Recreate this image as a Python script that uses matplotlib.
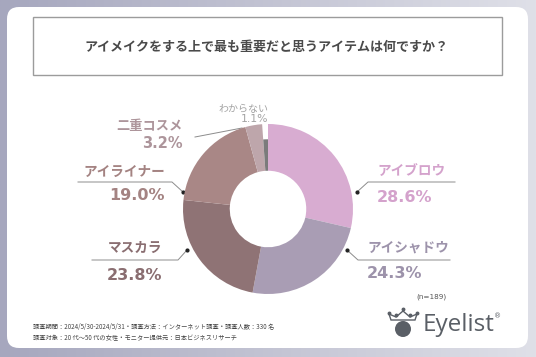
import numpy as np
import matplotlib
matplotlib.use("Agg")
import matplotlib.pyplot as plt
from matplotlib.patches import FancyBboxPatch, Rectangle, Circle, Polygon

plt.rcParams['font.family'] = ['Noto Sans CJK JP', 'DejaVu Sans']

# ---- data ----
categories = ["アイブロウ", "アイシャドウ", "マスカラ", "アイライナー", "二重コスメ", "わからない"]
values = [28.6, 24.3, 23.8, 19.0, 3.2, 1.1]
slice_colors = ["#d8acd1", "#a99db4", "#8f7375", "#a98786", "#bea6ab", "#7b7b7b"]
text_colors = ["#d4a2cc", "#9d93ab", "#8a6e71", "#a48382", "#ad959b", "#a3a3a3"]
title = "アイメイクをする上で最も重要だと思うアイテムは何ですか？"
note1 = "調査期間：2024/5/30-2024/5/31・調査方法：インターネット調査・調査人数：330 名"
note2 = "調査対象：20 代～50 代の女性・モニター提供元：日本ビジネスリサーチ"
n_text = "(n=189)"

W, H = 536, 357
fig = plt.figure(figsize=(W / 100, H / 100), dpi=100)

# background / decoration axes in pixel coordinates
bg = fig.add_axes([0, 0, 1, 1], zorder=0)
bg.set_xlim(0, W)
bg.set_ylim(H, 0)
bg.axis("off")

# gradient outer background
c0 = np.array([0xa6, 0xa7, 0xbe]) / 255
c1 = np.array([0xdf, 0xe0, 0xe8]) / 255
t = np.linspace(0, 1, 256)
grad = (c0[None, :] * (1 - t[:, None]) + c1[None, :] * t[:, None])[None, :, :]
grad = np.repeat(grad, 4, axis=0)
bg.imshow(grad, extent=[0, W, H, 0], aspect="auto", zorder=0)

# white card
bg.add_patch(FancyBboxPatch((7, 7), 521, 341, boxstyle="round,pad=0,rounding_size=12",
                            facecolor="white", edgecolor="none", zorder=1))
# title box
bg.add_patch(Rectangle((33, 17), 469, 58, facecolor="white", edgecolor="#9c9c9c", lw=1.0, zorder=2))
bg.text(266, 47, title, ha="center", va="center", fontsize=9.4, fontweight="bold",
        color="#4a4a4a", zorder=3)

# ---- donut ----
cx, cy, R = 268, 209, 85
pie_ax = fig.add_axes([(cx - R) / W, (H - cy - R) / H, 2 * R / W, 2 * R / H], zorder=1)
wedges, _ = pie_ax.pie(values, colors=slice_colors, startangle=90, counterclock=False,
                       radius=1.0, wedgeprops=dict(width=0.55, edgecolor="none"))
# the "わからない" slice is drawn shorter than the others
wedges[-1].set_radius(0.82)
wedges[-1].set_width(0.37)
pie_ax.set_xlim(-1, 1)
pie_ax.set_ylim(-1, 1)
pie_ax.axis("off")

# ---- labels and leader lines ----
line_kw = dict(color="#8c8c8c", lw=0.7, zorder=3)
dot_kw = dict(color="#222222", ms=2.0, marker="o", zorder=4)
lab_kw = dict(va="center", fontsize=9.8, fontweight="bold", zorder=3)
pct_kw = dict(va="center", fontsize=11.5, fontweight="bold", family="DejaVu Sans", zorder=3)

# アイブロウ
bg.plot([357, 368, 455], [192, 182, 182], **line_kw)
bg.plot([357], [192], **dot_kw)
bg.text(377, 172, categories[0], ha="left", color=text_colors[0], **lab_kw)
bg.text(377, 197, f"{values[0]:.1f}%", ha="left", color=text_colors[0], **pct_kw)

# アイシャドウ
bg.plot([347, 358, 450], [250, 260, 260], **line_kw)
bg.plot([347], [250], **dot_kw)
bg.text(367, 248, categories[1], ha="left", color=text_colors[1], **lab_kw)
bg.text(367, 273, f"{values[1]:.1f}%", ha="left", color=text_colors[1], **pct_kw)

# マスカラ
bg.plot([187, 178, 92], [250, 260, 260], **line_kw)
bg.plot([187], [250], **dot_kw)
bg.text(162, 248, categories[2], ha="right", color=text_colors[2], **lab_kw)
bg.text(162, 275, f"{values[2]:.1f}%", ha="right", color=text_colors[2], **pct_kw)

# アイライナー
bg.plot([183, 172, 78], [192, 182, 182], **line_kw)
bg.plot([183], [192], **dot_kw)
bg.text(165, 172, categories[3], ha="right", color=text_colors[3], **lab_kw)
bg.text(165, 195, f"{values[3]:.1f}%", ha="right", color=text_colors[3], **pct_kw)

# 二重コスメ
bg.plot([195, 242], [137, 128], **line_kw)
bg.text(183, 126, categories[4], ha="right", va="center", fontsize=9.5, fontweight="bold",
        color=text_colors[4], zorder=3)
bg.text(183, 143, f"{values[4]:.1f}%", ha="right", va="center", fontsize=10.5, fontweight="bold",
        color=text_colors[4], family="DejaVu Sans", zorder=3)

# わからない
bg.text(268, 109, categories[5], ha="right", va="center", fontsize=7.2, color=text_colors[5], zorder=3)
bg.text(268, 119, f"{values[5]:.1f}%", ha="right", va="center", fontsize=7.8,
        color=text_colors[5], family="DejaVu Sans", zorder=3)

# n
bg.text(431, 297, n_text, ha="center", va="center", fontsize=5.2, color="#555555",
        family="DejaVu Sans", zorder=3)

# footnotes
bg.text(33, 327, note1, ha="left", va="center", fontsize=4.5, color="#444444", zorder=3)
bg.text(33, 338, note2, ha="left", va="center", fontsize=4.5, color="#444444", zorder=3)

# logo
logo_c = "#5a5f66"
bg.add_patch(Circle((403, 329), 8, facecolor=logo_c, edgecolor="none", zorder=3))
bg.add_patch(Polygon([(391, 320), (389, 314), (396, 317), (403, 311), (410, 317), (417, 314), (415, 320)],
                     closed=True, facecolor="none", edgecolor=logo_c, lw=1.0, zorder=3))
for px, py in [(389, 313), (403, 309), (417, 313), (396, 315), (410, 315)]:
    bg.plot([px], [py], marker="o", ms=1.8, color=logo_c, zorder=3)
bg.text(423, 325, "Eyelist", ha="left", va="center", fontsize=17.5, color=logo_c,
        family="Open Sans", zorder=3)
bg.text(498, 316, "®", ha="center", va="center", fontsize=5, color=logo_c, family="DejaVu Sans", zorder=3)

fig.savefig("out.png", dpi=100)
